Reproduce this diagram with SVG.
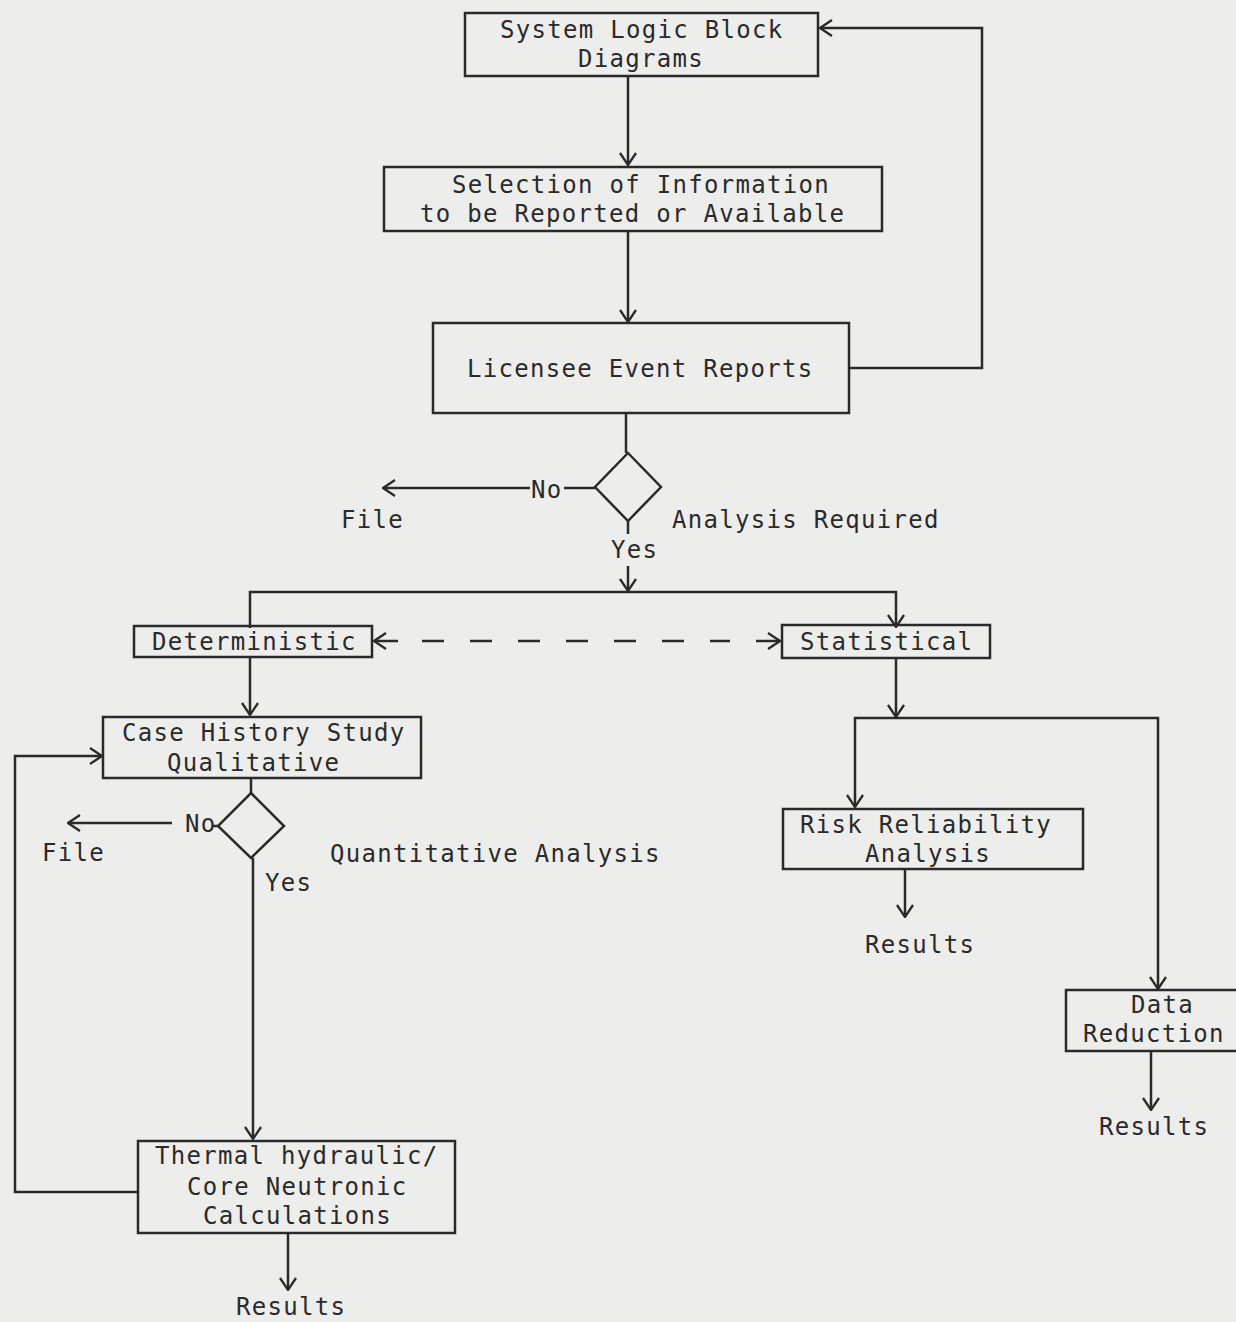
<svg xmlns="http://www.w3.org/2000/svg" width="1236" height="1322" viewBox="0 0 1236 1322">
<style>
.bg{fill:#ededeb}
.box{fill:none;stroke:#2a2a2a;stroke-width:2.5}
.ln{fill:none;stroke:#2a2a2a;stroke-width:2.5}
.dash{fill:none;stroke:#2a2a2a;stroke-width:2.5;stroke-dasharray:22 26}
text{font-family:"DejaVu Sans Mono","Liberation Mono",monospace;font-size:24px;letter-spacing:1.3px;fill:#2a2a2a}
</style>
<defs>
<marker id="ah" viewBox="0 0 14 18" refX="13" refY="9" markerWidth="14" markerHeight="18" markerUnits="userSpaceOnUse" orient="auto-start-reverse">
<path d="M1,1 L13,9 L1,17" fill="none" stroke="#2a2a2a" stroke-width="2.3"/>
</marker>
</defs>
<rect class="bg" x="0" y="0" width="1236" height="1322"/>

<g id="connectors">
<path class="ln" d="M628,76 V165" marker-end="url(#ah)"/>
<path class="ln" d="M628,231 V322" marker-end="url(#ah)"/>
<path class="ln" d="M849,368 H982 V28 H820" marker-end="url(#ah)"/>
<path class="ln" d="M626,413 V453"/>
<path class="ln" d="M595,488 H564"/>
<path class="ln" d="M530,488 H383" marker-end="url(#ah)"/>
<path class="ln" d="M628,521 V534"/>
<path class="ln" d="M628,566 V591" marker-end="url(#ah)"/>
<path class="ln" d="M250,628 V592 H896 V627" marker-end="url(#ah)"/>
<path class="dash" d="M422,641 H730"/>
<path class="ln" d="M398,641 H374" marker-end="url(#ah)"/>
<path class="ln" d="M756,641 H780" marker-end="url(#ah)"/>
<path class="ln" d="M250,657 V715" marker-end="url(#ah)"/>
<path class="ln" d="M251,778 V793"/>
<path class="ln" d="M172,823 H68" marker-end="url(#ah)"/>
<path class="ln" d="M218,826 H212"/>
<path class="ln" d="M253,858 V1139" marker-end="url(#ah)"/>
<path class="ln" d="M138,1192 H15 V756 H102" marker-end="url(#ah)"/>
<path class="ln" d="M288,1233 V1290" marker-end="url(#ah)"/>
<path class="ln" d="M896,658 V717" marker-end="url(#ah)"/>
<path class="ln" d="M896,718 H855 V807" marker-end="url(#ah)"/>
<path class="ln" d="M896,718 H1158 V989" marker-end="url(#ah)"/>
<path class="ln" d="M905,869 V917" marker-end="url(#ah)"/>
<path class="ln" d="M1151,1051 V1110" marker-end="url(#ah)"/>
</g>

<g id="n-system-logic">
<rect class="box" x="465" y="13" width="353" height="63"/>
<text x="500" y="38">System Logic Block</text>
<text x="578" y="67">Diagrams</text>
</g>
<g id="n-selection">
<rect class="box" x="384" y="167" width="498" height="64"/>
<text x="452" y="193">Selection of Information</text>
<text x="420" y="222">to be Reported or Available</text>
</g>
<g id="n-ler">
<rect class="box" x="433" y="323" width="416" height="90"/>
<text x="467" y="377">Licensee Event Reports</text>
</g>
<g id="n-decision1">
<polygon class="box" points="628,453 661,487 628,521 595,487"/>
<text x="531" y="498">No</text>
<text x="341" y="528">File</text>
<text x="672" y="528">Analysis Required</text>
<text x="611" y="558">Yes</text>
</g>
<g id="n-deterministic">
<rect class="box" x="134" y="626" width="238" height="31"/>
<text x="152" y="650">Deterministic</text>
</g>
<g id="n-statistical">
<rect class="box" x="782" y="625" width="208" height="33"/>
<text x="800" y="650">Statistical</text>
</g>
<g id="n-case-history">
<rect class="box" x="103" y="717" width="318" height="61"/>
<text x="122" y="741">Case History Study</text>
<text x="167" y="771">Qualitative</text>
</g>
<g id="n-decision2">
<polygon class="box" points="251,793 284,826 251,858 218,826"/>
<text x="185" y="832">No</text>
<text x="42" y="861">File</text>
<text x="330" y="862">Quantitative Analysis</text>
<text x="265" y="891">Yes</text>
</g>
<g id="n-thermal">
<rect class="box" x="138" y="1141" width="317" height="92"/>
<text x="155" y="1164">Thermal hydraulic/</text>
<text x="187" y="1195">Core Neutronic</text>
<text x="203" y="1224">Calculations</text>
</g>
<g id="n-results1">
<text x="236" y="1315">Results</text>
</g>
<g id="n-risk">
<rect class="box" x="783" y="809" width="300" height="60"/>
<text x="800" y="833">Risk Reliability</text>
<text x="865" y="862">Analysis</text>
</g>
<g id="n-results2">
<text x="865" y="953">Results</text>
</g>
<g id="n-data-reduction">
<rect class="box" x="1066" y="990" width="175" height="61"/>
<text x="1131" y="1013">Data</text>
<text x="1083" y="1042">Reduction</text>
</g>
<g id="n-results3">
<text x="1099" y="1135">Results</text>
</g>
</svg>
